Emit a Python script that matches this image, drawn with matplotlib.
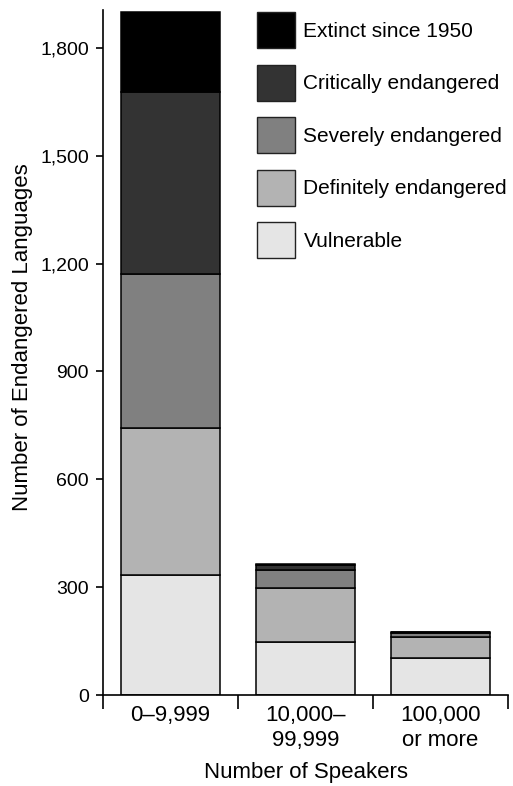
import matplotlib
matplotlib.use("Agg")
import matplotlib.pyplot as plt
from matplotlib.patches import Patch
import numpy as np

plt.rcParams['font.family'] = ['Liberation Sans', 'DejaVu Sans']

# categories (number of speakers)
groups = ['0\u20139,999', '10,000\u2013\n99,999', '100,000\nor more']

# stacked values, bottom to top
vulnerable = [334, 148, 103]
definitely = [409, 150, 59]
severely = [428, 49, 10]
critically = [507, 14, 2]
extinct = [222, 3, 0]

series = [vulnerable, definitely, severely, critically, extinct]
names = ['Vulnerable', 'Definitely endangered', 'Severely endangered',
         'Critically endangered', 'Extinct since 1950']
colors = ['#e5e5e5', '#b3b3b3', '#808080', '#333333', '#000000']

fig = plt.figure(figsize=(5.13, 7.86), dpi=100)
ax = fig.add_axes([103/513, 1-695/786, 405/513, 685/786])

x = np.arange(len(groups))
bottom = np.zeros(len(groups))
for vals, col, nm in zip(series, colors, names):
    ax.bar(x, vals, 0.74, bottom=bottom, color=col, edgecolor='black',
           linewidth=1.1, label=nm)
    bottom += np.array(vals)

ax.set_xlim(-0.5, 2.5)
ax.set_ylim(0, 1905)
ax.set_yticks([0, 300, 600, 900, 1200, 1500, 1800])
ax.set_yticklabels(['0', '300', '600', '900', '1,200', '1,500', '1,800'], fontsize=14)
ax.tick_params(axis='y', length=5, width=1.2, pad=5)

# boundary ticks, labels in the middle
ax.set_xticks([-0.5, 0.5, 1.5, 2.5])
ax.set_xticklabels([])
ax.tick_params(axis='x', which='major', length=10, width=1.2)
ax.set_xticks(x, minor=True)
ax.set_xticklabels(groups, minor=True, fontsize=16, linespacing=1.25)
ax.tick_params(axis='x', which='minor', length=0, pad=7)

for s in ['top', 'right']:
    ax.spines[s].set_visible(False)
for s in ['left', 'bottom']:
    ax.spines[s].set_linewidth(1.2)

ax.set_xlabel('Number of Speakers', fontsize=16, labelpad=8)
ax.set_ylabel('Number of Endangered Languages', fontsize=16)
ax.yaxis.set_label_coords(-0.173, 0.523)

handles = [Patch(facecolor=c, edgecolor='#222222', linewidth=1) for c in colors[::-1]]
ax.legend(handles, names[::-1], loc='upper left',
          bbox_to_anchor=(257/513, 1-12/786), bbox_transform=fig.transFigure,
          frameon=False, fontsize=15, handlelength=1.83, handleheight=2.29,
          labelspacing=0.79, handletextpad=0.4, borderpad=0, borderaxespad=0)

fig.savefig('out.png', dpi=100)
